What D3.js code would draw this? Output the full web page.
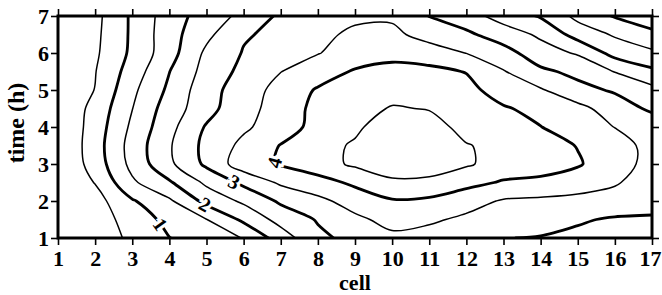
<!DOCTYPE html>
<html>
<head>
<meta charset="utf-8">
<script src="https://cdn.jsdelivr.net/npm/d3@7"></script>
<style>
  body { margin: 0; background: #fff; }
  svg { display: block; }
  text { font-family: "Liberation Serif", "Times New Roman", serif; font-weight: bold; fill: #000; }
</style>
</head>
<body>
<svg id="chart" width="662" height="295"></svg>
<script>
// grid: columns = cells, rows = times (top row first)
const cells = d3.range(1, 18);
const times = [7, 6.5, 6, 5.5, 5, 4.5, 4, 3.5, 3, 2.5, 2, 1.5, 1];
const grid = [
  [0.2, 0.36, 1.08, 1.76, 2.23, 2.63, 3.09, 3.25, 3.38, 3.42, 2.99, 2.7, 2.3, 1.95, 1.36, 0.96, 0.75],   // 7
  [0.2, 0.39, 1.08, 1.8, 2.38, 2.95, 3.12, 3.35, 3.62, 3.62, 3.3, 3.1, 2.74, 2.42, 1.8, 1.44, 1.1],      // 6.5
  [0.2, 0.42, 1.1, 1.8, 2.6, 3.03, 3.25, 3.48, 3.7, 3.85, 3.75, 3.49, 3.2, 2.7, 2.45, 1.82, 1.6],        // 6
  [0.2, 0.48, 1.23, 1.99, 2.69, 3.13, 3.49, 3.75, 4.05, 4.15, 4.12, 3.98, 3.53, 3.1, 2.87, 2.48, 2.1],   // 5.5
  [0.2, 0.51, 1.39, 2.1, 2.81, 3.25, 3.67, 4.05, 4.25, 4.35, 4.3, 4.15, 3.77, 3.55, 3.15, 2.94, 2.65],   // 5
  [0.05, 0.66, 1.49, 2.25, 2.8, 3.4, 3.62, 4.19, 4.35, 4.53, 4.48, 4.3, 4.05, 3.85, 3.65, 3.25, 2.91],   // 4.5
  [0.0, 0.73, 1.6, 2.35, 3.05, 3.42, 3.75, 4.17, 4.42, 4.75, 4.65, 4.38, 4.2, 4.01, 3.75, 3.49, 3.3],    // 4
  [0.0, 0.77, 1.7, 2.45, 3.15, 3.62, 4.02, 4.35, 4.55, 4.8, 4.75, 4.52, 4.4, 4.2, 3.98, 3.7, 3.35],      // 3.5
  [0.0, 0.72, 1.65, 2.4, 3.1, 3.78, 4.05, 4.3, 4.58, 4.75, 4.72, 4.56, 4.3, 4.2, 4.05, 3.7, 3.35],       // 3
  [0.05, 0.52, 1.42, 1.94, 2.6, 3.11, 3.58, 3.8, 4.1, 4.42, 4.4, 4.15, 3.95, 3.9, 3.75, 3.55, 3.25],     // 2.5
  [0.05, 0.3, 0.95, 1.42, 2.15, 2.59, 3.08, 3.38, 3.7, 3.95, 3.9, 3.7, 3.45, 3.4, 3.35, 3.3, 3.25],      // 2
  [0.05, 0.26, 0.7, 1.15, 1.49, 2.1, 2.68, 3.04, 3.4, 3.65, 3.58, 3.4, 3.25, 3.15, 3.05, 2.95, 2.92],    // 1.5
  [0.05, 0.22, 0.6, 0.99, 1.25, 1.52, 2.24, 2.89, 3.15, 3.4, 3.3, 3.15, 3.01, 2.98, 2.9, 2.85, 2.8]      // 1
];
const levels = [0.5, 1, 1.5, 2, 2.5, 3, 3.5, 4, 4.5];

// contour labels (level, rough spot)
const labelLevels = [1, 2, 3, 4];
const labelCells = [3.73, 4.95, 5.7, 6.86];
const labelTimes = [1.35, 1.89, 2.43, 3.03];

const xTicks = d3.range(1, 18);
const yTicks = d3.range(1, 8);

const svg = d3.select("#chart");
const mLeft = 58, mRight = 652, mTop = 16, mBottom = 238;

const x = d3.scaleLinear().domain([1, 17]).range([mLeft, mRight]);
const y = d3.scaleLinear().domain([1, 7]).range([mBottom, mTop]);

// contours
const n = cells.length, m = times.length;
const contours = d3.contours().size([n, m]).thresholds(levels)(grid.flat());

const gx = g => cells[0] + (g - 0.5) * (cells[1] - cells[0]);
const gy = g => times[0] + (g - 0.5) * (times[1] - times[0]);
const eps = 1e-6;
const inside = p => p[0] >= 0.5 - eps && p[0] <= n - 0.5 + eps && p[1] >= 0.5 - eps && p[1] <= m - 0.5 + eps;

// split a ring into the iso-line pieces that lie in the plot
function runsOf(ring) {
  let pts = ring.slice(0, -1);
  const k = pts.findIndex(p => !inside(p));
  if (k < 0) return [{ pts, closed: true }];
  pts = pts.slice(k).concat(pts.slice(0, k));
  const runs = [];
  let cur = [];
  pts.forEach(p => {
    if (inside(p)) cur.push(p);
    else { if (cur.length > 1) runs.push({ pts: cur, closed: false }); cur = []; }
  });
  if (cur.length > 1) runs.push({ pts: cur, closed: false });
  return runs;
}

const toPx = p => [x(gx(p[0])), y(gy(p[1]))];
const lineOpen = d3.line().curve(d3.curveCatmullRom.alpha(0.5));
const lineClosed = d3.line().curve(d3.curveCatmullRomClosed.alpha(0.5));

svg.append("clipPath").attr("id", "plot")
  .append("rect").attr("x", mLeft).attr("y", mTop).attr("width", mRight - mLeft).attr("height", mBottom - mTop);

const gLines = svg.append("g").attr("clip-path", "url(#plot)");
const pieces = {};

contours.forEach(c => {
  pieces[c.value] = [];
  c.coordinates.forEach(poly => poly.forEach(ring => {
    runsOf(ring).forEach(r => {
      const px = r.pts.map(toPx);
      pieces[c.value].push(px);
      gLines.append("path")
        .attr("d", (r.closed ? lineClosed : lineOpen)(px))
        .attr("fill", "none")
        .attr("stroke", "#000")
        .attr("stroke-width", Number.isInteger(c.value) ? 2.8 : 1.5)
        .attr("stroke-linejoin", "round")
        .attr("stroke-linecap", "round");
    });
  }));
});

// labels, snapped onto their line
const gLab = svg.append("g");
labelLevels.forEach((lv, i) => {
  const tx = x(labelCells[i]), ty = y(labelTimes[i]);
  let best = null;
  (pieces[lv] || []).forEach(px => {
    for (let j = 0; j < px.length - 1; j++) {
      const [ax, ay] = px[j], [bx, by] = px[j + 1];
      const dx = bx - ax, dy = by - ay;
      const L = dx * dx + dy * dy || 1;
      const t = Math.max(0, Math.min(1, ((tx - ax) * dx + (ty - ay) * dy) / L));
      const qx = ax + t * dx, qy = ay + t * dy;
      const d = (qx - tx) ** 2 + (qy - ty) ** 2;
      if (!best || d < best.d) best = { d, qx, qy, ang: Math.atan2(dy, dx) * 180 / Math.PI };
    }
  });
  if (!best) return;
  let a = best.ang;
  if (a > 90) a -= 180;
  if (a < -90) a += 180;
  gLab.append("text")
    .attr("transform", `translate(${best.qx},${best.qy}) rotate(${a})`)
    .attr("text-anchor", "middle")
    .attr("dy", "0.35em")
    .attr("font-size", 20)
    .attr("stroke", "#fff")
    .attr("stroke-width", 6)
    .attr("paint-order", "stroke")
    .text(lv);
});

// axes
const fmt = d3.format("d");
const gB = svg.append("g").attr("transform", `translate(0,${mBottom})`)
  .call(d3.axisBottom(x).tickValues(xTicks).tickSize(7).tickPadding(5).tickFormat(fmt));
const gL = svg.append("g").attr("transform", `translate(${mLeft},0)`)
  .call(d3.axisLeft(y).tickValues(yTicks).tickSize(7).tickPadding(2).tickFormat(fmt));
const gT = svg.append("g").attr("transform", `translate(0,${mTop})`)
  .call(d3.axisTop(x).tickValues(xTicks).tickSize(7).tickFormat(""));
const gR = svg.append("g").attr("transform", `translate(${mRight},0)`)
  .call(d3.axisRight(y).tickValues(yTicks).tickSize(7).tickFormat(""));

[gB, gL, gT, gR].forEach(g => {
  g.select(".domain").remove();
  g.selectAll(".tick line").attr("stroke", "#000").attr("stroke-width", 1.6);
  g.selectAll(".tick text")
    .attr("font-family", null).attr("font-size", 22).attr("fill", "#000");
});
// keep the last bottom label inside the window
gB.selectAll(".tick text").filter(d => d === xTicks[xTicks.length - 1]).attr("dx", -2);

// frame
svg.append("rect")
  .attr("x", mLeft).attr("y", mTop)
  .attr("width", mRight - mLeft).attr("height", mBottom - mTop)
  .attr("fill", "none").attr("stroke", "#000").attr("stroke-width", 3);

// axis titles
svg.append("text")
  .attr("x", (mLeft + mRight) / 2).attr("y", 290)
  .attr("text-anchor", "middle").attr("font-size", 22)
  .text("cell");
svg.append("text")
  .attr("transform", `translate(24,${(mTop + mBottom) / 2 - 4}) rotate(-90)`)
  .attr("text-anchor", "middle").attr("font-size", 24)
  .text("time (h)");
</script>
</body>
</html>
